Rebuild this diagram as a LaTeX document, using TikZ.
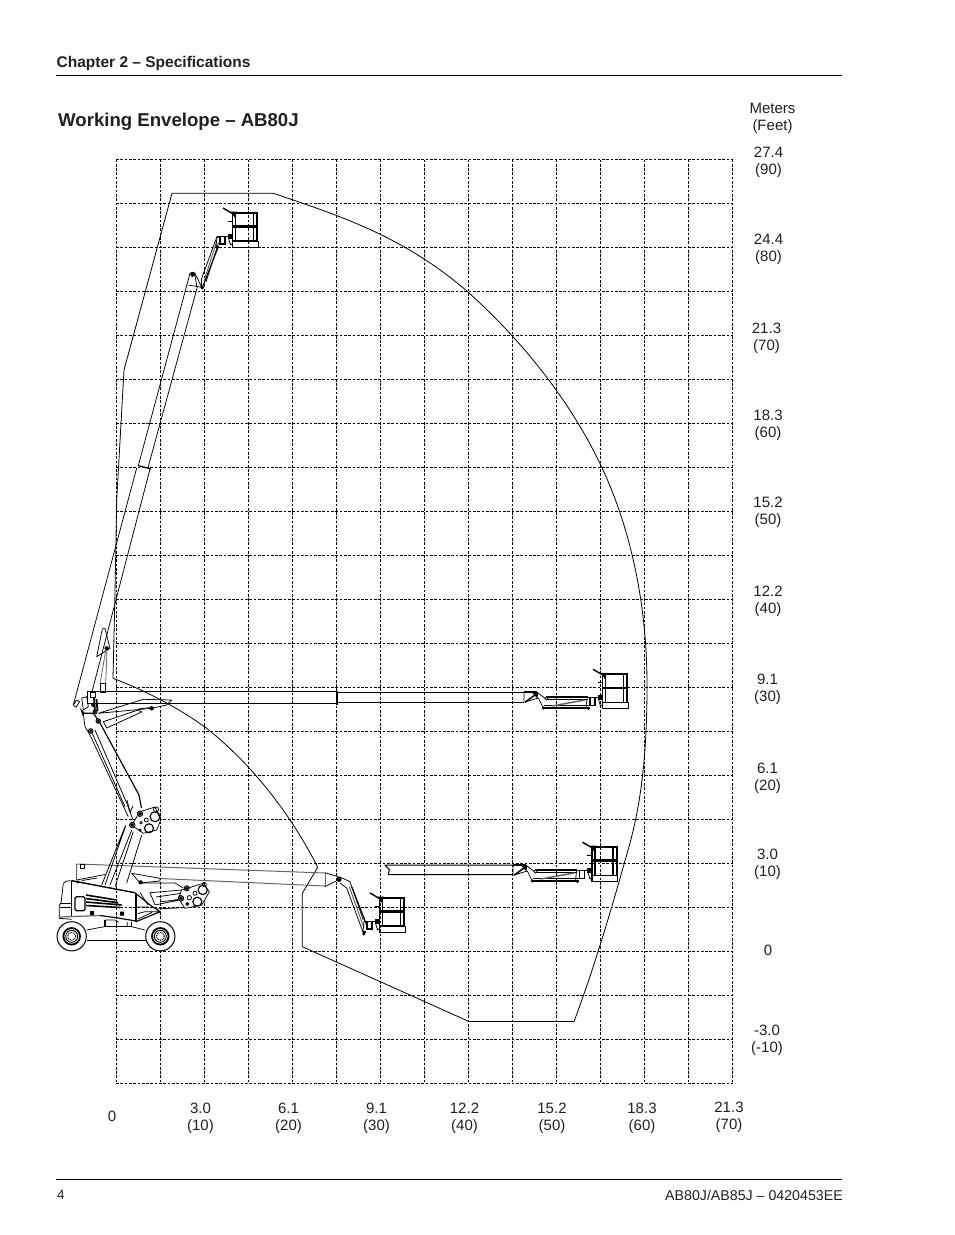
\documentclass[tikz,border=0pt]{standalone}
\usepackage{fontspec}
\setmainfont{Liberation Sans}
\definecolor{ink}{HTML}{231F20}
\definecolor{soft}{HTML}{666666}
\tikzset{
  gridl/.style={draw=black,line width=1pt,dash pattern=on 2.7pt off 1.6pt},
  env/.style={draw=black,line width=0.8pt,line join=miter},
  ln/.style={draw=black,line width=0.75pt,line join=round},
  md/.style={draw=black,line width=1.15pt},
  thk/.style={draw=black,line width=1.8pt},
  gry/.style={draw=soft,line width=1pt},
  pin/.style={fill=black,draw=black,line width=0.3pt},
  lbl/.style={font=\fontsize{15}{17}\selectfont,text=ink,align=center,inner sep=0pt,anchor=center,yshift=-4pt},
  rule/.style={draw=black,line width=0.9pt}
}
% platform: origin at the lower left corner of the basket floor
\newcommand{\plat}[1]{%
\begin{scope}[shift={#1}]
  \draw[ln] (0,-6) rectangle (26,0);
  \draw[thk] (0,-34) -- (26,-34);
  \draw[draw=black,line width=2.5pt] (0,-20.5) -- (26,-20.5);
  \draw[md] (0,-6) -- (26,-6);
  \draw[md] (0.5,-34) -- (0.5,0);
  \draw[draw=black,line width=1.8pt] (3.5,-34) -- (3.5,-6);
  \draw[md] (21.5,-34) -- (21.5,-6);
  \draw[draw=black,line width=2pt] (25,-34.5) -- (25,-6);
  \draw[draw=black,line width=1.4pt] (-9,-39) -- (3,-32);
  \fill[black] (-1,-35.5) -- (5,-35.5) -- (3,-29) -- cycle;
  \draw[draw=black,line width=1.3pt] (-4.5,-25.5) -- (1,-25.5);
  \draw[md] (-15,-10.5) -- (-4,-10.5);
  \draw[ln] (-15,-10.5) -- (-16,0);
  \draw[md] (-12,-10) -- (-12,-3) -- (-7,-3) -- (-7,-10);
  \draw[ln] (-4,-10.5) -- (-1.5,-2) arc[start angle=180,end angle=360,radius=1.2];
  \fill[black] (-4.5,-13) rectangle (0,-8);
  \fill[black] (-16,-1.5) rectangle (-13,0.5);
\end{scope}}
% horizontal fly boom end and jib: origin at top of boom end
\newcommand{\jibh}[1]{%
\begin{scope}[shift={#1}]
  \draw[thk,line width=1.4pt] (0,0) -- (12.7,0);
  \draw[ln] (0,0) -- (0,10) (12.7,0) -- (19.3,5) -- (22,7);
  \draw[thk,line width=1.5pt] (1,10.3) -- (12.7,1.7);
  \draw[ln] (1,10) -- (14.3,6) -- (19.3,16);
  \fill[black] (8,0.5) -- (14,0.5) -- (13.5,6.5) -- cycle;
  \draw[md] (22,5) -- (64,5);
  \draw[ln] (22,7) -- (64,7);
  \draw[md] (19.3,16) -- (66,16);
  \draw[md] (20,13.7) -- (66,13.7);
  \draw[draw=soft,line width=1.5pt] (27.7,14) -- (61,8);
  \draw[ln,fill=white] (22.5,6.5) circle[radius=1.6];
  \fill[black] (19.3,16) circle[radius=1.6] (64.5,16.5) circle[radius=1.6];
\end{scope}}
\begin{document}
\begin{tikzpicture}[x=1pt,y=-1pt]
\useasboundingbox (0,0) rectangle (954,1235);
\fill[white] (0,0) rectangle (954,1235);

% header and footer
\draw[rule] (56,75.5) -- (842,75.5);
\draw[rule] (56,1179) -- (842,1179);
\node[lbl,anchor=west,font=\fontsize{15.5}{17}\selectfont\bfseries] (chap) at (56.5,59) {Chapter 2 – Specifications};
\node[lbl,anchor=west,font=\fontsize{18.6}{22}\selectfont\bfseries] (title) at (58,118) {Working Envelope – AB80J};
\node[lbl,anchor=west,font=\fontsize{13.5}{14}\selectfont] (page) at (57,1191) {4};
\node[lbl,anchor=east,font=\fontsize{14.2}{14}\selectfont] (doc) at (843,1191) {AB80J/AB85J – 0420453EE};

% grid
\foreach \gx in {116,160,...,732} \draw[gridl] (\gx,159.5) -- (\gx,1083);
\foreach \gy in {159.5,203.5,...,1083.5} \draw[gridl] (116,\gy) -- (732.5,\gy);

% axis labels
\node[lbl] (hdr) at (772.5,114.5) {Meters\\(Feet)};
\node[lbl] (v90) at (768.5,158.5) {27.4\\(90)};
\node[lbl] (v80) at (768.5,245.5) {24.4\\(80)};
\node[lbl] (v70) at (766.5,334.5) {21.3\\(70)};
\node[lbl] (v60) at (768,421.5) {18.3\\(60)};
\node[lbl] (v50) at (768,508.5) {15.2\\(50)};
\node[lbl] (v40) at (768,597.5) {12.2\\(40)};
\node[lbl] (v30) at (767.5,685) {9.1\\(30)};
\node[lbl] (v20) at (767.5,774) {6.1\\(20)};
\node[lbl] (v10) at (767.5,860.5) {3.0\\(10)};
\node[lbl] (v00) at (768,946) {0};
\node[lbl] (vm10) at (767,1036.5) {-3.0\\(-10)};
\node[lbl] (h00) at (112,1112) {0};
\node[lbl] (h10) at (200.5,1114) {3.0\\(10)};
\node[lbl] (h20) at (288.5,1114) {6.1\\(20)};
\node[lbl] (h30) at (376.5,1114) {9.1\\(30)};
\node[lbl] (h40) at (464.5,1114) {12.2\\(40)};
\node[lbl] (h50) at (552,1114) {15.2\\(50)};
\node[lbl] (h60) at (642,1114) {18.3\\(60)};
\node[lbl] (h70) at (729,1113) {21.3\\(70)};

% envelope
\draw[env] (113,678.3) -- (115,593) -- (116.7,500) -- (124,370) -- (172,193.3) -- (273.3,193.3)
  .. controls (338.3,215.3) and (403.3,235.8) .. (468.3,292.3)
  .. controls (521.8,340.5) and (569.7,400) .. (600.7,465)
  .. controls (632.9,532.7) and (647,610) .. (647,685)
  .. controls (647,738) and (643.8,792) .. (630,843)
  .. controls (613.3,902.5) and (595.7,963.8) .. (574,1021.5)
  -- (469,1021.5) -- (302.3,946.7) -- (302.3,893.3) -- (317.7,867.3)
  .. controls (291.2,814.8) and (252.7,764.9) .. (206.7,728.3)
  .. controls (178,707.6) and (146,690.8) .. (113,678.3);

% raised boom
\draw[ln] (190,273.3) -- (138.3,465.7);
\draw[ln] (197.3,287) -- (148.3,466.7);
\draw[md] (138,465.5) -- (151,469);
\draw[ln] (136.7,468) -- (73.3,705) -- (76.7,700) -- (79.5,701.7) -- (76,707.3) -- (73.3,705);
\draw[ln] (150,469) -- (91.7,693);
\draw[ln] (190,273.3) .. controls (192,271.5) and (194,272) .. (195,273.3) -- (201.7,287.3) -- (188.3,285);
\draw[ln] (195,275) -- (196.7,286);
\fill[black] (192.7,274.5) circle[radius=2.4] (202.3,287.7) circle[radius=1.9];
\draw[ln] (201.7,278.3) -- (216.7,237.3) -- (220.7,237.3);
\draw[md] (202.3,287.7) -- (218.3,246.7);
\draw[gry] (204,281) -- (216.5,242);
\draw[ln] (206,282) -- (218.5,243);
\draw[ln] (201.7,278.3) -- (201.7,287);
\plat{(232,247)}

% horizontal boom
\draw[ln,line width=1pt] (87.3,691.7) -- (336.7,691.7) (87.3,703.3) -- (336.7,703.3) (87.3,691.7) -- (87.3,703.3);
\draw[thk,line width=2pt] (337,691) -- (337,704.5);
\draw[ln,line width=1pt] (338,692.3) -- (524,692.3) (338,702.8) -- (524,702.8);
\jibh{(524,692)}
\plat{(602,708.3)}

% lowered horizontal boom
\draw[ln,line width=1pt] (513,865) -- (385,865) -- (389.3,869.5) -- (388.3,874.5) -- (513,874.5);
\jibh{(513,865)}
\plat{(591.5,881.2)}

% stowed boom and lowered jib
\draw[gry] (76.7,864) -- (325,873) (160,878.5) -- (325,886) (76.7,864) -- (76.7,880);
\draw[ln] (80,864.5) rectangle (84.5,868);
\draw[draw=soft,line width=1.8pt] (325.5,872.5) -- (325.5,887);
\draw[ln] (325,872.7) -- (338.3,876.7) (325,886.7) -- (338,880);
\fill[black] (339,879.3) circle[radius=2.6];
\draw[ln] (340,877) -- (350,881.7) -- (363.3,920) (363.7,934) -- (346.7,888) -- (340,883);
\draw[gry] (349.3,886.7) -- (364,928);
\draw[md] (351.7,886.7) -- (366.7,925);
\fill[black] (363.7,934) circle[radius=1.6];
\plat{(379,932)}

% upper arm (raised position)
\draw[ln] (105,628.3) -- (110,648.3) -- (96.7,656.7) -- (101.7,631.7) .. controls (102.5,628) and (104,627.5) .. (105,628.3);
\fill[black] (106.7,648.3) circle[radius=2.2];
\draw[gry,line width=0.8pt] (106,649) -- (100,684) (107,650) -- (105.7,684);
\draw[ln] (100,683) rectangle (105.7,692);
\draw[ln] (90,692.5) rectangle (95,697);
\draw[ln] (81.7,698) -- (86.7,696.7) -- (88.3,706.7) -- (83.3,710) -- cycle;
\fill[black] (80,708) -- (85,713) -- (82.5,715.5) -- cycle;
\draw[md] (83.3,713.3) -- (93.3,713.3) -- (98.3,720);
\draw[ln] (83.3,713.3) -- (85,726.7) -- (90,735) -- (128.3,816.7);
\draw[md] (100,723) -- (139,795) -- (141.5,808);
\draw[ln] (95,730) -- (126.7,803) -- (133,820);
\draw[ln] (91.7,732) -- (125,806.7);
\draw[ln] (127,800) -- (130,812) -- (133,806);
\draw[draw=black,line width=1.8pt] (94,698) -- (95,712);
\draw[draw=black,line width=1.8pt] (96.5,699) -- (97.5,711);
\foreach \px/\py/\pr in {93.3/705/1.9,95/712/2,98.3/721/2.4,90.7/731/2.4}{\draw[ln,fill=soft] (\px,\py) circle[radius=\pr];\fill[black] (\px,\py) circle[radius=\pr*0.6];}
% lift cylinder and triangle
\draw[ln] (98.3,713.3) -- (143.3,699.3) -- (171.7,700) -- (166.7,705) -- (151.7,708.3) -- cycle;
\draw[ln] (103.3,721.7) -- (138,710) -- (141.7,712) -- (106.7,728) -- cycle;
\draw[ln] (138,709) -- (151,707.5);
\fill[black] (151.7,708.3) circle[radius=2.2];
% link plate (raised)
\draw[ln,fill=white] (140,811.7) -- (155,807) -- (160.7,820) -- (156.7,830) -- (143.3,833.3) -- (131.7,825) -- cycle;
\draw[md] (155,816.7) circle[radius=5];
\draw[md] (149,828.3) circle[radius=4.5];
\draw[ln] (156,809.5) circle[radius=2.6] (146.3,820) circle[radius=2] (141,822.7) circle[radius=1.4] (140,830) circle[radius=1];
\foreach \px/\py in {140/813.7,132.3/825}{\draw[ln,fill=soft] (\px,\py) circle[radius=2.8];\fill[black] (\px,\py) circle[radius=1.6];}
% lower arms
\draw[ln] (125,826.7) -- (101.7,885) (131.7,830) -- (110,885) (133.3,831.7) -- (115,886.7) (141.7,835) -- (126.7,883) (126,825) -- (105,885);

% chassis
\draw[ln] (63.3,883.3) -- (61,903.3) -- (59.3,905) -- (59.3,918.3) -- (71.7,919.3);
\draw[ln] (63.3,883.3) -- (66.7,881) -- (71.7,880.7);
\draw[ln] (60,903.5) -- (71,903.5) (60,907) -- (71,907);
\draw[draw=black,line width=1.4pt] (71.7,880.7) -- (135,892.7);
\draw[md] (135,892.7) -- (150,905) -- (160,911.7) -- (136,921.7);
\draw[draw=black,line width=1.5pt] (136,892.7) -- (136,921.7);
\draw[md] (71.7,880.7) -- (71.7,917);
\draw[gry,line width=1.2pt] (60,917) -- (100,915.5);
\draw[md] (100,915.5) -- (118,918) -- (136,921);
\draw[md,rounded corners=1.5pt] (75,896.7) rectangle (85,910.7);
\draw[draw=black,line width=1.6pt] (86,895) -- (116.7,900) (86,898.5) -- (118.3,902.7) (86,902) -- (121.7,905) (86,905.5) -- (120,907.5);
\fill[black] (90,911) rectangle (94,915) (120,911.7) rectangle (124,915.7);
\draw[ln] (145,911.7) -- (160,911.7) (136,907) -- (148.5,907) (138,913.5) -- (145,911.7) (140,892.5) -- (148,905) (138,919) -- (152,912.5);
\fill[black] (78,882) circle[radius=1.6];
\draw[ln] (76.7,880) -- (105,874.5) (82,880.5) -- (97,878) ;
% undercarriage
\draw[md] (105,920) -- (105,926.7) -- (131.7,926.7) -- (131.7,922);
\draw[ln] (105,920) -- (115,920) -- (118.5,922) (116.7,921.5) -- (116.7,926.7) (127.3,922) -- (127.3,926.7);
\draw[ln] (86.7,930) -- (100.7,927.3) -- (105,926.7) (131.7,926.7) -- (145,930);
\draw[ln] (86.7,940.5) -- (146,940.5);
% wheels
\foreach \wx/\wn in {71.7/wa,160.3/wb}{
  \draw[md,line width=1pt,fill=white] (\wx,936.3) circle[radius=14.6];
  \draw[thk,line width=1.8pt] (\wx,936.3) circle[radius=8.3];
  \draw[md,line width=0.9pt] (\wx,936.3) circle[radius=6];
  \draw[draw=black,line width=1pt,dash pattern=on 1pt off 0.8pt] (\wx,936.3) circle[radius=4];
}
% base boom cradle / triangle (stowed)
\draw[ln] (131.7,873.3) -- (160,878.3) -- (160,881) -- (140,883) -- cycle;
\fill[black] (140.7,882.3) circle[radius=2.1];
\draw[ln] (140,883) -- (175,883) -- (183.3,888);
\draw[ln] (150,892.7) -- (181.7,890) (155,905) -- (180,900) (160,902) -- (178,899.5) (156,909) -- (185,907.5) (150,892.7) -- (155,905);
\draw[ln] (156,897) -- (180,893.5);
% link plate (stowed)
\draw[ln,fill=white] (181.7,890) -- (203.3,883.3) -- (209.3,891.7) -- (201.7,905) -- (185,908.3) -- (178.3,898.3) -- cycle;
\draw[md] (202.7,890) circle[radius=4.6];
\draw[md] (197.3,901.7) circle[radius=4.5];
\draw[ln] (204.3,884.3) circle[radius=2] (195,893.3) circle[radius=2] (189.3,897.7) circle[radius=2.2];
\foreach \px/\py/\pr in {186.7/888.3/2.6,181/898.3/2.8,187.3/904/1.6}{\draw[ln,fill=soft] (\px,\py) circle[radius=\pr];\fill[black] (\px,\py) circle[radius=\pr*0.6];}
\end{tikzpicture}
\end{document}
